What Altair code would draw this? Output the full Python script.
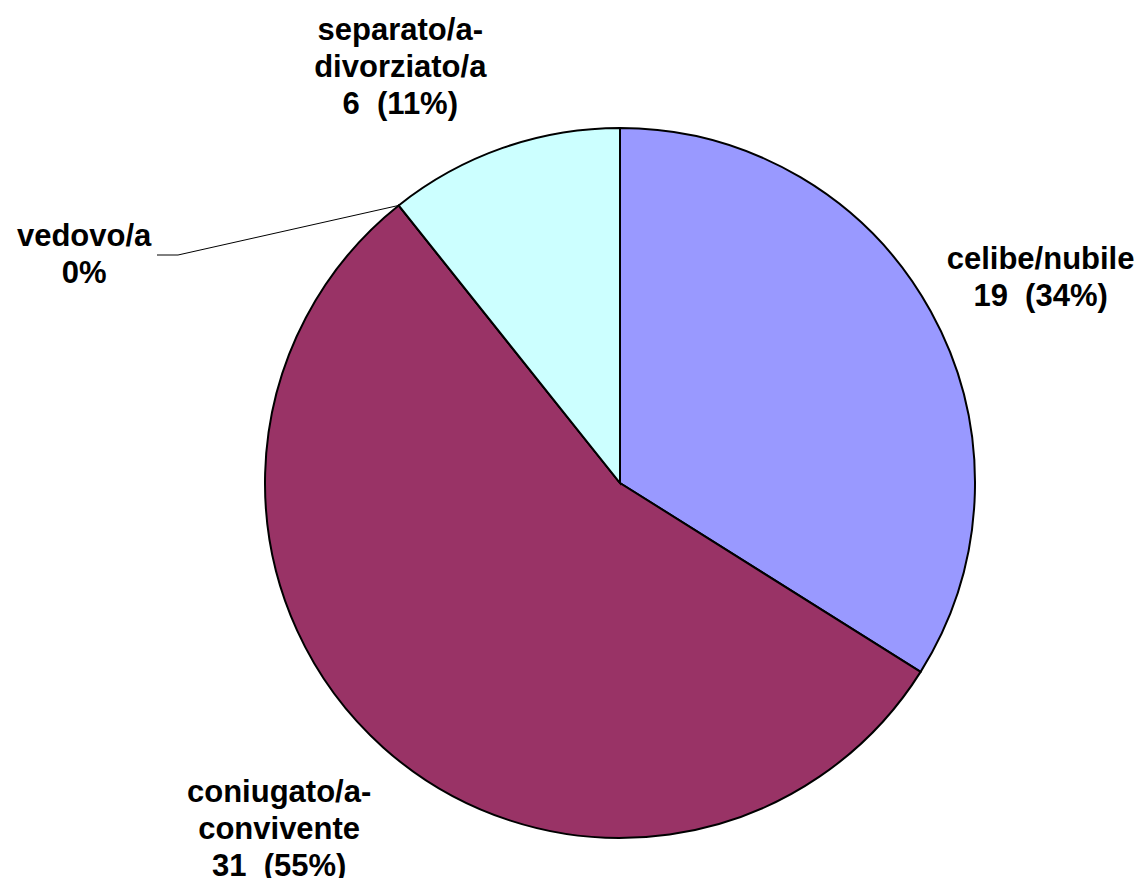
import math
import altair as alt
import pandas as pd

# ---- data ----
categories = ["celibe/nubile", "coniugato/a-convivente", "vedovo/a", "separato/a-divorziato/a"]
values = [19, 31, 0, 6]
NB = "\u00a0"
label_lines = [
    "celibe/nubile\n19 " + NB + "(34%)",
    "coniugato/a-\nconvivente\n31 " + NB + "(55%)",
    "vedovo/a\n0%",
    "separato/a-\ndivorziato/a\n6 " + NB + "(11%)",
]
colors = ["#9999FF", "#993366", "#FFFFCC", "#CCFFFF"]

df = pd.DataFrame({
    "idx": list(range(len(categories))),
    "category": categories,
    "value": values,
    "label": label_lines,
})

# ---- layout ----
W, H = 1129, 870
CX, CY = 612, 475
R = 355
LR = 420
FONT = "Liberation Sans"
FS = 31
LH = 37
# per-label nudges (dx, dy) relative to mid-angle anchor at radius LR
nudges = {
    "celibe/nubile": (53, -1),
    "coniugato/a-convivente": (-61, 34),
    "vedovo/a": (-274, 101),
    "separato/a-divorziato/a": (-81, -19),
}

base = alt.Chart(df)

pie = base.mark_arc(radius=R, stroke="black", strokeWidth=2).encode(
    theta=alt.Theta("value:Q", stack=True),
    color=alt.Color("category:N", scale=alt.Scale(domain=categories, range=colors), legend=None),
    order=alt.Order("idx:Q"),
    x=alt.value(CX),
    y=alt.value(CY),
)

# leader line for the zero slice (vedovo/a): starts on the rim at its angle
total = sum(values)
vi = categories.index("vedovo/a")
cum_before = sum(values[:vi]) + values[vi] / 2
ang = 2 * math.pi * cum_before / total
p0 = (CX + R * math.sin(ang), CY - R * math.cos(ang))
leader_df = pd.DataFrame({
    "i": [0, 1, 2],
    "px": [p0[0], 170, 149],
    "py": [p0[1], 247, 247],
})
leader = alt.Chart(leader_df).mark_line(color="black", strokeWidth=1).encode(
    x=alt.X("px:Q", scale=None),
    y=alt.Y("py:Q", scale=None),
    order="i:Q",
)

layers = [pie, leader]
for cat, lab in zip(categories, label_lines):
    dx, dy = nudges[cat]
    n = lab.count("\n") + 1
    dy = dy - (n - 1) * LH / 2
    t = (
        base.transform_window(cum="sum(value)", sort=[alt.SortField("idx")])
        .transform_calculate(mid="datum.cum - datum.value / 2")
        .transform_filter(alt.datum.category == cat)
        .mark_text(
            radius=LR, dx=dx, dy=dy, font=FONT, fontSize=FS, fontWeight="bold",
            lineBreak="\n", lineHeight=LH, align="center", baseline="middle", color="black",
        )
        .encode(
            theta=alt.Theta("mid:Q", stack=None),
            text="label:N",
            x=alt.value(CX),
            y=alt.value(CY),
        )
    )
    layers.append(t)

chart = (
    alt.layer(*layers)
    .properties(width=W, height=H, padding=0, autosize="none", background="white")
    .configure_view(stroke=None)
)

chart.save("out.html", embed_options={"renderer": "svg", "actions": False})
